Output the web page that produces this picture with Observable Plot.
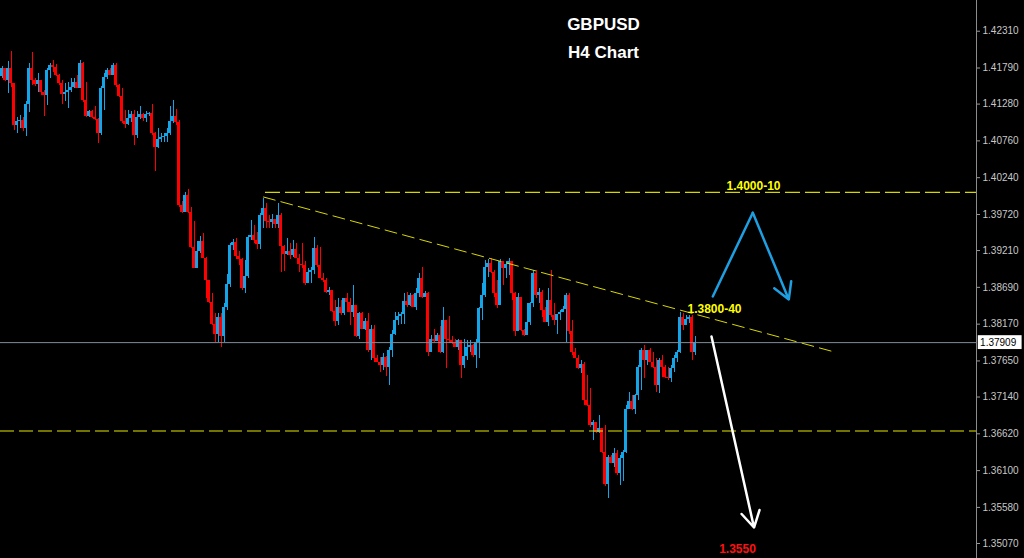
<!DOCTYPE html>
<html><head><meta charset="utf-8">
<script src="https://cdn.jsdelivr.net/npm/d3@7"></script>
<script src="https://cdn.jsdelivr.net/npm/@observablehq/plot@0.6"></script>
<style>html,body{margin:0;padding:0;background:#000;overflow:hidden}</style>
</head><body><div id="chart"></div>
<script>
const firstOpen = 1.4167;
const closes = [1.4178,1.4161,1.4178,1.4157,1.4098,1.4103,1.4105,1.4094,1.4127,1.4178,
1.4161,1.4155,1.4161,1.4145,1.4140,1.4176,1.4182,1.4180,1.4169,1.4157,
1.4141,1.4145,1.4147,1.4152,1.4159,1.4150,1.4185,1.4133,1.4111,1.4117,
1.4109,1.4106,1.4087,1.4150,1.4166,1.4176,1.4169,1.4182,1.4154,1.4139,
1.4103,1.4099,1.4108,1.4113,1.4084,1.4109,1.4113,1.4108,1.4113,1.4114,
1.4086,1.4067,1.4078,1.4081,1.4082,1.4087,1.4103,1.4111,1.4102,1.3985,
1.3975,1.3999,1.3975,1.3926,1.3895,1.3919,1.3934,1.3910,1.3879,1.3848,
1.3817,1.3803,1.3827,1.3799,1.3841,1.3873,1.3928,1.3932,1.3912,1.3908,
1.3867,1.3885,1.3940,1.3942,1.3935,1.3929,1.3970,1.3981,1.3962,1.3961,
1.3965,1.3958,1.3970,1.3927,1.3915,1.3919,1.3914,1.3923,1.3910,1.3902,
1.3900,1.3874,1.3890,1.3893,1.3924,1.3900,1.3882,1.3879,1.3862,1.3865,
1.3835,1.3821,1.3841,1.3832,1.3853,1.3847,1.3833,1.3843,1.3800,1.3832,
1.3810,1.3821,1.3780,1.3810,1.3768,1.3763,1.3759,1.3770,1.3756,1.3780,
1.3803,1.3822,1.3828,1.3831,1.3849,1.3843,1.3857,1.3841,1.3860,1.3881,
1.3855,1.3861,1.3777,1.3796,1.3793,1.3801,1.3777,1.3822,1.3796,1.3794,
1.3789,1.3784,1.3794,1.3759,1.3771,1.3784,1.3787,1.3773,1.3791,1.3839,
1.3857,1.3897,1.3903,1.3890,1.3860,1.3843,1.3905,1.3896,1.3901,1.3906,
1.3860,1.3806,1.3855,1.3808,1.3801,1.3820,1.3846,1.3888,1.3857,1.3862,
1.3836,1.3820,1.3850,1.3829,1.3822,1.3831,1.3834,1.3838,1.3857,1.3806,
1.3777,1.3768,1.3754,1.3760,1.3709,1.3702,1.3674,1.3678,1.3664,1.3669,
1.3636,1.3591,1.3629,1.3620,1.3634,1.3606,1.3627,1.3636,1.3697,1.3707,
1.3697,1.3716,1.3756,1.3780,1.3766,1.3780,1.3763,1.3756,1.3730,1.3766,
1.3756,1.3742,1.3740,1.3754,1.3768,1.3777,1.3827,1.3815,1.3824,1.3827,
1.3777,1.37909];
const highs = [1.4181,1.4178,1.4188,1.4202,1.4157,1.4109,1.4112,1.4109,1.4132,1.4185,
1.4201,1.4164,1.4171,1.4161,1.4147,1.4179,1.4185,1.4190,1.4184,1.4170,
1.4161,1.4157,1.4159,1.4164,1.4164,1.4168,1.4190,1.4187,1.4159,1.4119,
1.4119,1.4124,1.4108,1.4153,1.4171,1.4178,1.4178,1.4185,1.4185,1.4156,
1.4150,1.4119,1.4119,1.4117,1.4119,1.4117,1.4124,1.4115,1.4117,1.4116,
1.4128,1.4088,1.4094,1.4086,1.4086,1.4093,1.4124,1.4133,1.4121,1.4105,
1.3990,1.4003,1.4008,1.3982,1.3962,1.3934,1.3941,1.3945,1.3911,1.3879,
1.3860,1.3832,1.3832,1.3832,1.3846,1.3887,1.3931,1.3937,1.3938,1.3920,
1.3910,1.3907,1.3942,1.3964,1.3956,1.3947,1.3973,1.3994,1.3987,1.3971,
1.3972,1.3965,1.3987,1.3973,1.3928,1.3938,1.3931,1.3935,1.3931,1.3916,
1.3931,1.3905,1.3896,1.3897,1.3940,1.3928,1.3926,1.3888,1.3881,1.3869,
1.3865,1.3850,1.3853,1.3850,1.3853,1.3860,1.3853,1.3871,1.3832,1.3834,
1.3834,1.3825,1.3832,1.3815,1.3815,1.3773,1.3770,1.3775,1.3771,1.3784,
1.3808,1.3834,1.3834,1.3834,1.3860,1.3862,1.3860,1.3859,1.3867,1.3888,
1.3897,1.3863,1.3862,1.3801,1.3809,1.3804,1.3814,1.3841,1.3822,1.3828,
1.3800,1.3795,1.3796,1.3789,1.3796,1.3794,1.3794,1.3788,1.3796,1.3841,
1.3874,1.3907,1.3908,1.3910,1.3893,1.3879,1.3909,1.3903,1.3905,1.3910,
1.3904,1.3862,1.3860,1.3846,1.3810,1.3846,1.3848,1.3893,1.3893,1.3867,
1.3865,1.3841,1.3867,1.3893,1.3846,1.3831,1.3836,1.3842,1.3861,1.3860,
1.3822,1.3782,1.3773,1.3766,1.3763,1.3745,1.3726,1.3681,1.3678,1.3688,
1.3670,1.3674,1.3631,1.3631,1.3641,1.3639,1.3631,1.3639,1.3702,1.3721,
1.3716,1.3718,1.3759,1.3782,1.3787,1.3780,1.3782,1.3777,1.3768,1.3768,
1.3773,1.3759,1.3756,1.3759,1.3773,1.3780,1.3834,1.3832,1.3829,1.3829,
1.3829,1.3799];
const lows = [1.4164,1.4160,1.4143,1.4152,1.4091,1.4086,1.4094,1.4089,1.4082,1.4116,
1.4154,1.4153,1.4144,1.4140,1.4111,1.4126,1.4164,1.4173,1.4167,1.4154,
1.4127,1.4131,1.4122,1.4144,1.4150,1.4150,1.4150,1.4130,1.4109,1.4109,
1.4108,1.4105,1.4073,1.4084,1.4119,1.4163,1.4168,1.4168,1.4152,1.4137,
1.4100,1.4094,1.4098,1.4102,1.4070,1.4079,1.4106,1.4103,1.4102,1.4111,
1.4084,1.4033,1.4065,1.4074,1.4074,1.4074,1.4084,1.4100,1.4098,1.3982,
1.3973,1.3975,1.3973,1.3924,1.3895,1.3895,1.3917,1.3910,1.3853,1.3846,
1.3815,1.3791,1.3791,1.3784,1.3791,1.3836,1.3869,1.3921,1.3908,1.3900,
1.3865,1.3860,1.3882,1.3935,1.3931,1.3922,1.3923,1.3952,1.3952,1.3952,
1.3952,1.3952,1.3952,1.3890,1.3891,1.3914,1.3909,1.3911,1.3910,1.3890,
1.3895,1.3872,1.3876,1.3874,1.3887,1.3897,1.3881,1.3876,1.3860,1.3858,
1.3834,1.3813,1.3815,1.3829,1.3829,1.3834,1.3815,1.3827,1.3798,1.3796,
1.3809,1.3808,1.3777,1.3766,1.3763,1.3763,1.3749,1.3752,1.3743,1.3730,
1.3770,1.3801,1.3815,1.3817,1.3817,1.3841,1.3842,1.3840,1.3836,1.3855,
1.3853,1.3855,1.3771,1.3777,1.3791,1.3792,1.3775,1.3775,1.3754,1.3789,
1.3788,1.3784,1.3780,1.3740,1.3754,1.3766,1.3777,1.3770,1.3754,1.3768,
1.3822,1.3855,1.3883,1.3889,1.3855,1.3839,1.3846,1.3872,1.3882,1.3886,
1.3850,1.3799,1.3808,1.3806,1.3800,1.3803,1.3815,1.3841,1.3853,1.3846,
1.3827,1.3820,1.3813,1.3827,1.3815,1.3803,1.3822,1.3833,1.3791,1.3803,
1.3773,1.3768,1.3753,1.3747,1.3702,1.3701,1.3671,1.3653,1.3662,1.3662,
1.3634,1.3587,1.3570,1.3620,1.3615,1.3603,1.3589,1.3594,1.3634,1.3696,
1.3695,1.3690,1.3709,1.3723,1.3740,1.3759,1.3763,1.3754,1.3721,1.3719,
1.3742,1.3740,1.3737,1.3735,1.3749,1.3763,1.3775,1.3808,1.3815,1.3818,
1.3766,1.3773];

const yTicks = [1.42310,1.41790,1.41280,1.40760,1.40240,1.39720,1.39210,1.38690,1.38170,1.37650,1.37140,1.36620,1.36100,1.35580,1.35070];
const currentPrice = 1.37909;
const resistanceLevel = 1.40031;
const resistanceStart = 87.83;
const supportLevel = 1.36660;
const trendLine = [{i: 87.17, p: 1.39967}, {i: 276.83, p: 1.37784}];
const bluePath = [{i: 236.93, p: 1.38561}, {i: 250.27, p: 1.39744}];
const blueArrow = [{i1: 250.27, p1: 1.39744, i2: 262.27, p2: 1.38519}];
const whiteArrow = [{i1: 236.5, p1: 1.37996, i2: 250.67, p2: 1.35296}];
const levelLabels = [
  {i: 250.5, p: 1.40059, text: "1.4000-10", color: "#ffff00"},
  {i: 237.5, p: 1.38321, text: "1.3800-40", color: "#ffff00"},
  {i: 245.17, p: 1.34929, text: "1.3550", color: "#ff1010"}
];
const titleLines = ["GBPUSD", "H4 Chart"];

const xDomain = [-0.5, 324.833];
const yDomain = [1.34858, 1.42744];
const xMax = xDomain[1];

const candles = closes.map((c, i) => {
  const o = i ? closes[i - 1] : firstOpen;
  return {i, open: o, close: c, high: Math.max(highs[i], o, c), low: Math.min(lows[i], o, c), up: c >= o};
});
const BLUE = "#14a5e8", RED = "#ff0000";
const col = d => d.up ? BLUE : RED;

const chart = Plot.plot({
  width: 1024, height: 558,
  marginLeft: 0, marginRight: 48, marginTop: 0, marginBottom: 0,
  style: {background: "#000", color: "#c8c8c8", fontFamily: "'Liberation Sans', Arial, sans-serif", fontSize: "10px"},
  x: {domain: xDomain, axis: null},
  y: {domain: yDomain, axis: null},
  marks: [
    Plot.ruleX(candles, {x: "i", y1: "low", y2: "high", stroke: col, strokeWidth: 1, shapeRendering: "crispEdges"}),
    Plot.rect(candles, {x1: d => d.i - 0.34, x2: d => d.i + 0.34, y1: "open", y2: "close", fill: col, shapeRendering: "crispEdges"}),
    Plot.ruleY([currentPrice], {stroke: "#7f8c99", strokeWidth: 1}),
    Plot.ruleY([supportLevel], {stroke: "#e6e600", strokeWidth: 1.2, strokeDasharray: "14,5"}),
    Plot.ruleY([resistanceLevel], {x1: resistanceStart, x2: xMax, stroke: "#d6d600", strokeWidth: 1.2, strokeDasharray: "15,5"}),
    Plot.line(trendLine, {x: "i", y: "p", stroke: "#d8d800", strokeWidth: 1, strokeDasharray: "12,6"}),
    Plot.line(bluePath, {x: "i", y: "p", stroke: "#1e9fe2", strokeWidth: 2.5}),
    Plot.arrow(blueArrow, {x1: "i1", y1: "p1", x2: "i2", y2: "p2", stroke: "#1e9fe2", strokeWidth: 2.5, headLength: 11}),
    Plot.arrow(whiteArrow, {x1: "i1", y1: "p1", x2: "i2", y2: "p2", stroke: "#ffffff", strokeWidth: 2.5, headLength: 11}),
    Plot.text(levelLabels, {x: "i", y: "p", text: "text", fill: "color", fontWeight: "bold", fontSize: 12, lineAnchor: "bottom", textAnchor: "middle"}),
    Plot.text([titleLines[0]], {frameAnchor: "top", dx: 115, dy: 24, fill: "#ffffff", fontWeight: "bold", fontSize: 17, lineAnchor: "middle"}),
    Plot.text([titleLines[1]], {frameAnchor: "top", dx: 115, dy: 52, fill: "#ffffff", fontWeight: "bold", fontSize: 17, lineAnchor: "middle"}),
    Plot.ruleX([xMax], {stroke: "#8c8c8c", strokeWidth: 1}),
    Plot.axisY(yTicks, {anchor: "right", tickFormat: d => d.toFixed(5), tickSize: 3, tickPadding: 3, fontSize: 10, fill: "#c8c8c8", stroke: "#9a9a9a"}),
    Plot.rect([currentPrice], {x1: xMax + 0.6, x2: xMax + 15.2, y1: d => d - 0.00098, y2: d => d + 0.00098, fill: "#ffffff"}),
    Plot.text([currentPrice], {x: xMax + 1.2, y: d => d, text: d => d.toFixed(5), fill: "#000", fontSize: 10, textAnchor: "start"})
  ]
});
document.getElementById("chart").appendChild(chart);
</script>
</body></html>
